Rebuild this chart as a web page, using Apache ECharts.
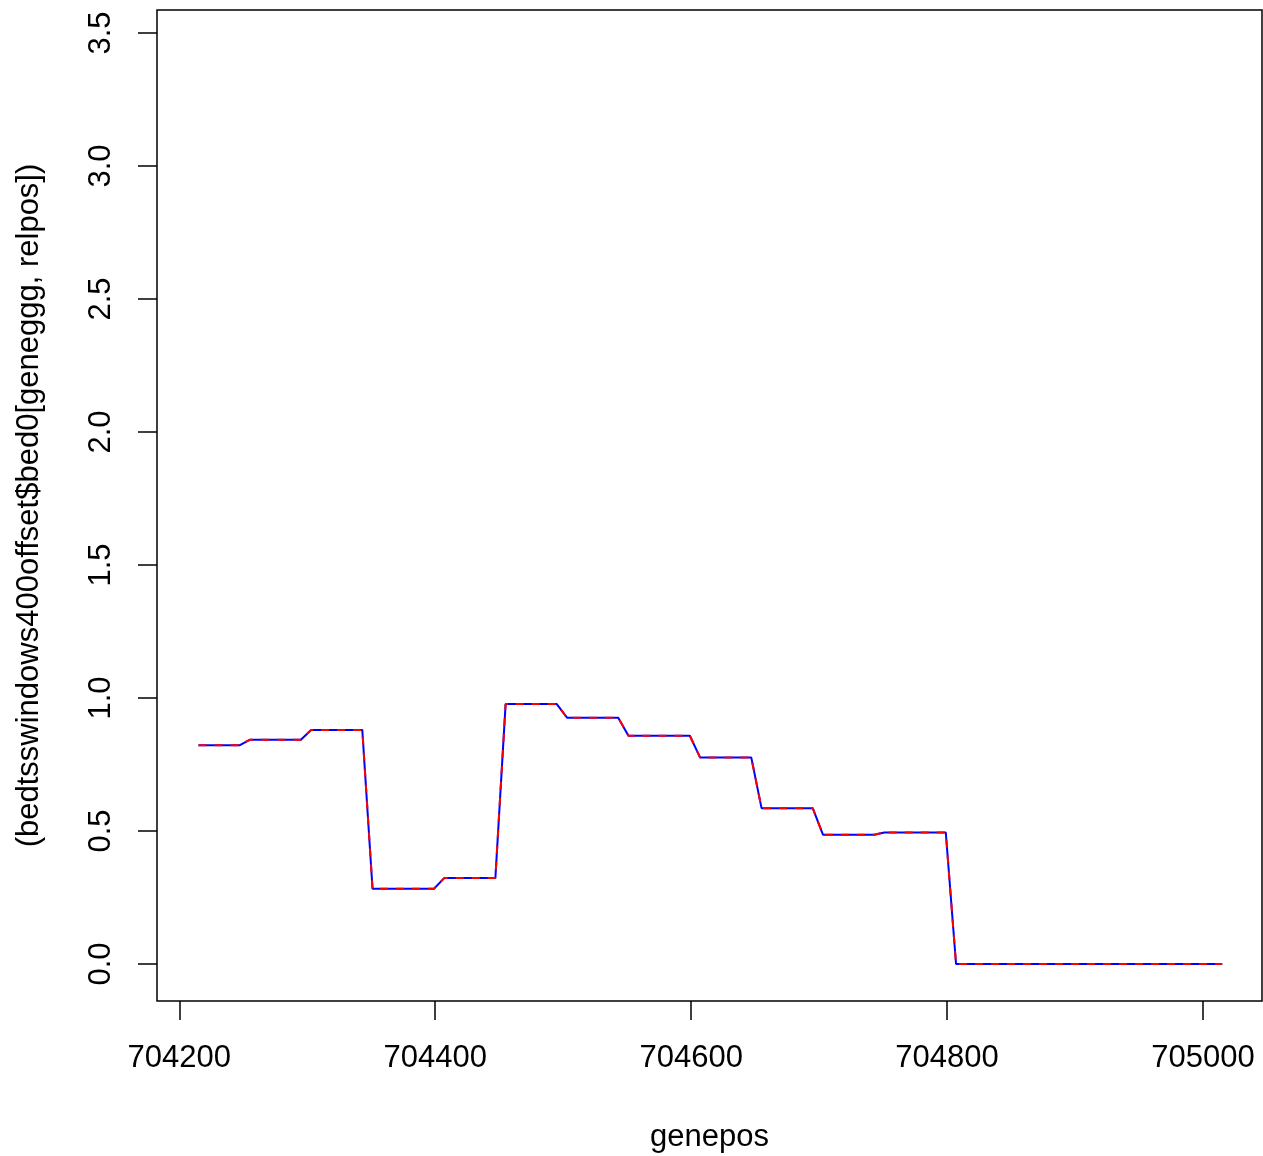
<!DOCTYPE html>
<html>
<head>
<meta charset="utf-8">
<script src="https://cdn.jsdelivr.net/npm/echarts@6/dist/echarts.min.js"></script>
<style>
html,body{margin:0;padding:0;background:#fff;}
#chart{width:1263px;height:1156px;}
</style>
</head>
<body>
<div id="chart"></div>
<script>
// Data
const genepos = [704215, 704247, 704255, 704295, 704303, 704343, 704351, 704399, 704407, 704447,
                 704455, 704495, 704503, 704543, 704551, 704599, 704607, 704647, 704655, 704695,
                 704703, 704743, 704751, 704799, 704807, 705015];
const values  = [0.822, 0.822, 0.843, 0.843, 0.880, 0.880, 0.283, 0.283, 0.323, 0.323,
                 0.977, 0.977, 0.926, 0.926, 0.858, 0.858, 0.776, 0.776, 0.586, 0.586,
                 0.486, 0.486, 0.494, 0.494, 0.000, 0.000];
const xTicks = [704200, 704400, 704600, 704800, 705000];
const yTicks = [0, 0.5, 1.0, 1.5, 2.0, 2.5, 3.0, 3.5];
const xTitle = 'genepos';
const yTitle = '(bedtsswindows400offset$bed0[geneggg, relpos])';

const pts = genepos.map((x, i) => [x, values[i]]);
const font = '"Liberation Sans", Arial, Helvetica, sans-serif';

const chart = echarts.init(document.getElementById('chart'), null, {renderer: 'canvas'});
chart.setOption({
  backgroundColor: '#ffffff',
  animation: false,
  grid: {left: 157, top: 10, width: 1105, height: 991, show: true,
         outerBoundsMode: 'none', containLabel: false,
         borderColor: '#000', borderWidth: 1.5, backgroundColor: 'transparent'},
  xAxis: {
    type: 'value', min: 704182.57, max: 705046.1,
    position: 'bottom',
    axisLine: {show: false, onZero: false},
    splitLine: {show: false},
    axisTick: {show: true, customValues: xTicks, length: 19, lineStyle: {color: '#000', width: 1.5}},
    axisLabel: {show: true, customValues: xTicks, fontSize: 31, fontFamily: font, color: '#000', margin: 42,
                formatter: v => String(Math.round(v))},
    name: xTitle, nameLocation: 'middle', nameGap: 121,
    nameTextStyle: {fontSize: 31, fontFamily: font, color: '#000'}
  },
  yAxis: {
    type: 'value', min: -0.1391, max: 3.5865,
    position: 'left',
    axisLine: {show: false, onZero: false},
    splitLine: {show: false},
    axisTick: {show: true, customValues: yTicks, length: 19, lineStyle: {color: '#000', width: 1.5}},
    axisLabel: {show: true, customValues: yTicks, rotate: 90, fontSize: 31, fontFamily: font, color: '#000', margin: 40,
                formatter: v => v.toFixed(1)},
    name: yTitle, nameLocation: 'middle', nameGap: 112, nameRotate: 90,
    nameTextStyle: {fontSize: 31, fontFamily: font, color: '#000'}
  },
  series: [
    {type: 'line', data: pts, symbol: 'none', lineStyle: {color: '#0000ff', width: 2, type: 'solid'}, z: 2},
    {type: 'line', data: pts, symbol: 'none', lineStyle: {color: '#ff0000', width: 2, type: [8, 8]}, z: 3}
  ]
});
</script>
</body>
</html>
